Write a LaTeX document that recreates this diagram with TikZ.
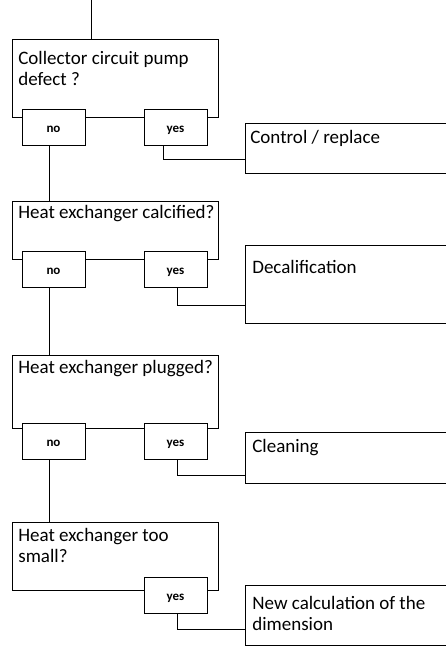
\documentclass[tikz,border=0pt]{standalone}
\usepackage{fontspec}
\setmainfont{Carlito}
\begin{document}
\begin{tikzpicture}[x=1pt,y=-1pt,line width=0.7pt,
  qbox/.style={draw, anchor=north west, inner sep=0pt, outer sep=0pt, minimum width=206pt},
  abox/.style={draw, anchor=north west, inner sep=0pt, outer sep=0pt, minimum width=240pt},
  ans/.style={draw, fill=white, anchor=north west, inner sep=0pt, outer sep=0pt, minimum width=63pt, minimum height=36pt, text height=10pt, text depth=0pt, font=\bfseries\fontsize{13}{15}\selectfont},
  txt/.style={anchor=base west, inner sep=0pt, align=left, font=\fontsize{19}{21}\selectfont},
  link/.style={draw}]
\useasboundingbox (0,0) rectangle (446,646);
\clip (0,0) rectangle (446,646);
% boxes
\node[qbox, minimum height=78pt] (q1) at (12,39) {};
\node[ans] (no1) at (22,109) {no};
\node[ans] (yes1) at (144,109) {yes};
\node[abox, minimum height=50pt] (a1) at (245,123) {};
\node[qbox, minimum height=58pt] (q2) at (12,201) {};
\node[ans] (no2) at (22,251) {no};
\node[ans] (yes2) at (144,251) {yes};
\node[abox, minimum height=78pt] (a2) at (245,245) {};
\node[qbox, minimum height=73pt] (q3) at (12,355) {};
\node[ans] (no3) at (22,423) {no};
\node[ans] (yes3) at (144,423) {yes};
\node[abox, minimum height=51pt] (a3) at (245,432) {};
\node[qbox, minimum height=68pt] (q4) at (12,522) {};
\node[ans] (yes4) at (144,577) {yes};
\node[abox, minimum height=60pt] (a4) at (245,585) {};
% texts (base anchor = last line)
\node[txt] (t1) at (18,85) {Collector circuit pump\\defect ?};
\node[txt] (t2) at (18,218) {Heat exchanger calcified?};
\node[txt] (t3) at (18,373) {Heat exchanger plugged?};
\node[txt] (t4) at (18,562) {Heat exchanger too\\small?};
\node[txt] (ta1) at (250,143) {Control / replace};
\node[txt] (ta2) at (252,273) {Decalification};
\node[txt] (ta3) at (252,452) {Cleaning};
\node[txt] (ta4) at (252,630) {New calculation of the\\dimension};
% connectors
\coordinate (start) at (91,0);
\draw[link] (start) -- (start |- q1.north);
\draw[link] ([xshift=-4pt]no1.south) -- ([xshift=-4pt]no1.south |- q2.north);
\draw[link] ([xshift=-4pt]no2.south) -- ([xshift=-4pt]no2.south |- q3.north);
\draw[link] ([xshift=-4pt]no3.south) -- ([xshift=-4pt]no3.south |- q4.north);
\draw[link] ([xshift=-12pt]yes1.south) |- ([yshift=14pt]a1.south west);
\draw[link] ([xshift=1.5pt]yes2.south) |- ([yshift=18pt]a2.south west);
\draw[link] ([xshift=1.5pt]yes3.south) |- ([yshift=8pt]a3.south west);
\draw[link] ([xshift=1.5pt]yes4.south) |- ([yshift=16pt]a4.south west);
\end{tikzpicture}
\end{document}
